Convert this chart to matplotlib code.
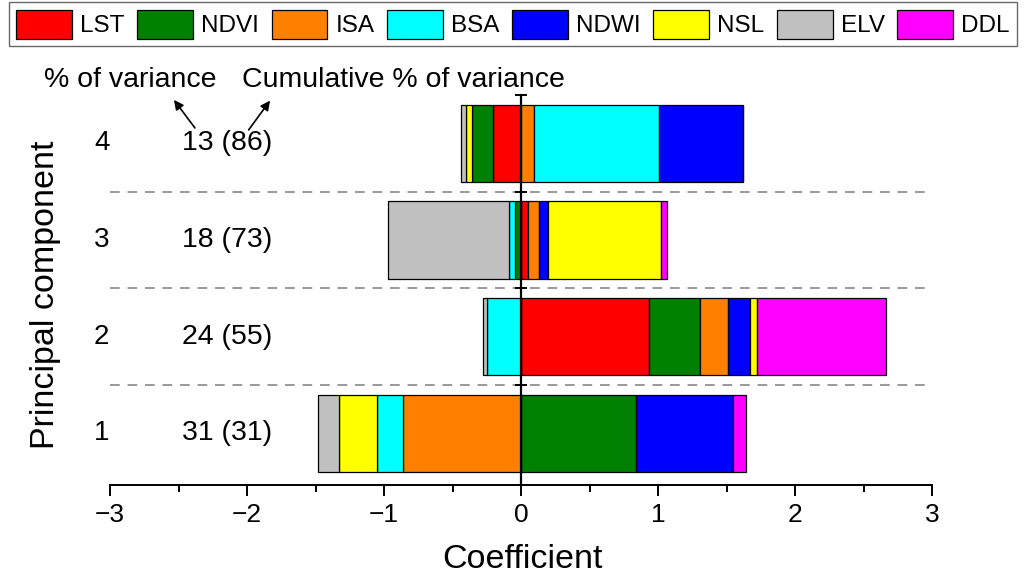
import matplotlib
matplotlib.use('Agg')
import matplotlib.pyplot as plt
import numpy as np
from matplotlib.ticker import MultipleLocator

plt.rcParams['font.family'] = ['Liberation Sans', 'DejaVu Sans']

# ---- data ----
components = [1, 2, 3, 4]
variables = ['LST', 'NDVI', 'ISA', 'BSA', 'NDWI', 'NSL', 'ELV', 'DDL']
colors = ['#FF0000', '#008000', '#FF8000', '#00FFFF', '#0000FF', '#FFFF00', '#C0C0C0', '#FF00FF']
LST = [0.000, 0.933, 0.049, -0.207]
NDVI = [0.842, 0.370, -0.044, -0.148]
ISA = [-0.864, 0.208, 0.080, 0.095]
BSA = [-0.185, -0.248, -0.041, 0.914]
NDWI = [0.703, 0.164, 0.066, 0.613]
NSL = [-0.277, 0.047, 0.827, -0.049]
ELV = [-0.153, -0.030, -0.883, -0.034]
DDL = [0.097, 0.942, 0.041, 0.000]
variance = [31, 24, 18, 13]
cumulative = [31, 55, 73, 86]
xticks = [-3, -2, -1, 0, 1, 2, 3]

series = [LST, NDVI, ISA, BSA, NDWI, NSL, ELV, DDL]

fig = plt.figure(figsize=(10.24, 5.76), dpi=100)
ax = fig.add_axes([110 / 1024, 91 / 576, 822 / 1024, 390 / 576])

pos = np.zeros(len(components))
neg = np.zeros(len(components))
for name, vals, c in zip(variables, series, colors):
    v = np.array(vals, dtype=float)
    left = np.where(v >= 0, pos, neg)
    ax.barh(components, v, left=left, height=0.8, color=c, edgecolor='black',
            linewidth=0.9, label=name, zorder=2)
    pos += np.clip(v, 0, None)
    neg += np.clip(v, None, 0)

ymin, ymax = 0.467, 4.5
ax.set_xlim(-3, 3)
ax.set_ylim(ymin, ymax)

for yb in [1.5, 2.5, 3.5]:
    ax.axhline(yb, color='#999999', linestyle=(0, (5, 4)), linewidth=1.4, zorder=1)

# spines
ax.spines['top'].set_visible(False)
ax.spines['right'].set_visible(False)
ax.spines['left'].set_position(('data', 0))
ax.spines['left'].set_bounds(ymin, ymax)
ax.spines['left'].set_linewidth(1.6)
ax.spines['left'].set_zorder(3)
ax.spines['bottom'].set_linewidth(1.4)

ax.set_yticks([1.5, 2.5, 3.5, 4.5])
ax.set_yticklabels([])
ax.tick_params(axis='y', direction='inout', length=9, width=1.4)

ax.set_xticks(xticks)
ax.set_xticklabels([('\u2212' + str(-t)) if t < 0 else str(t) for t in xticks])
ax.xaxis.set_minor_locator(MultipleLocator(0.5))
ax.tick_params(axis='x', which='major', direction='out', length=8, width=1.4,
               labelsize=19, pad=5)
ax.tick_params(axis='x', which='minor', direction='out', length=5, width=1.4)

# component labels and variance text
for k, var, cum in zip(components, variance, cumulative):
    ax.text(-3.06, k, str(k), ha='center', va='center', fontsize=20, clip_on=False)
    ax.text(-2.146, k, f'{var} ({cum})', ha='center', va='center', fontsize=20.5, clip_on=False)

ax.text(-2.854, 4.656, '% of variance', ha='center', va='center', fontsize=20.5, clip_on=False)
ax.text(-0.861, 4.656, 'Cumulative % of variance', ha='center', va='center', fontsize=20.5, clip_on=False)
arrow_kw = dict(arrowstyle='-|>', color='black', lw=1.2, mutation_scale=14, shrinkA=0, shrinkB=0)
ax.annotate('', xy=(-2.533, 4.449), xytext=(-2.380, 4.159), arrowprops=arrow_kw,
            annotation_clip=False)
ax.annotate('', xy=(-1.832, 4.442), xytext=(-1.988, 4.139), arrowprops=arrow_kw,
            annotation_clip=False)

fig.text(522 / 1024, 1 - 568 / 576, 'Coefficient', ha='center', va='baseline', fontsize=24.5)
fig.text(46 / 1024, 1 - 295 / 576, 'Principal component', ha='center', va='center',
         rotation=90, fontsize=24.5)

leg = fig.legend(loc='upper left', bbox_to_anchor=(9 / 1024, 1 - 8 / 576, 1008 / 1024, 0.01),
                 mode='expand', ncol=8, fontsize=17.5, handlelength=2.3, handleheight=1.5,
                 handletextpad=0.33, columnspacing=0.5, borderpad=0.3, borderaxespad=0,
                 fancybox=False, frameon=True)
leg.get_frame().set_edgecolor('#444444')
leg.get_frame().set_linewidth(1.0)

fig.savefig('out.png', dpi=100)
